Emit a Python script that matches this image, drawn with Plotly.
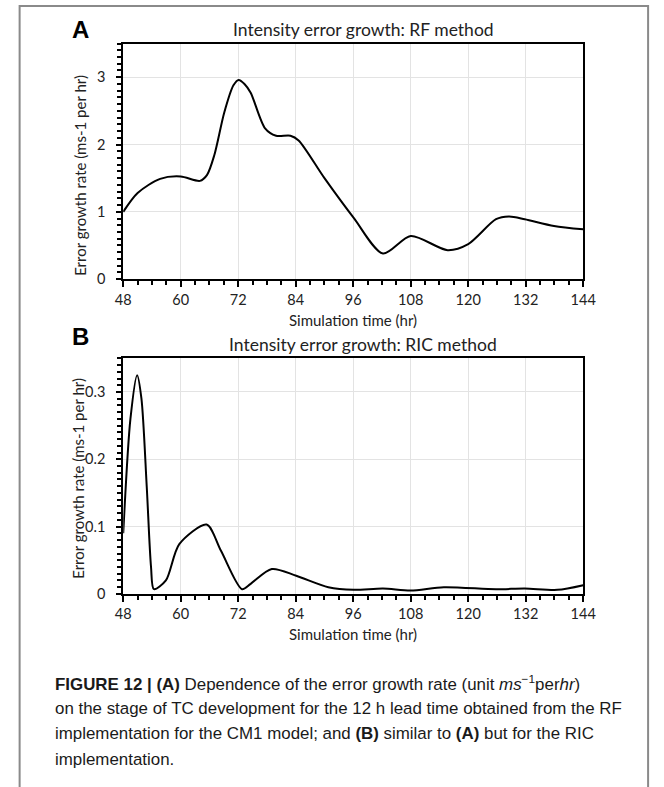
import plotly.graph_objects as go

# ---- data ----
rf_time = [48, 51, 55.7, 60, 64, 65.5, 67, 69.1, 71, 72.1, 73.3, 74.6, 77.6, 79.9, 82.9, 84.6,
           90, 96.1, 102.2, 108, 115.7, 120, 125.8, 128.5, 131.8, 137.9, 144]
rf_rate = [1.0, 1.28, 1.49, 1.525, 1.46, 1.55, 1.84, 2.48, 2.88, 2.96, 2.9, 2.77, 2.24, 2.13, 2.13, 2.06,
           1.5, 0.91, 0.38, 0.64, 0.43, 0.52, 0.89, 0.93, 0.89, 0.79, 0.74]

ric_time = [48, 49.5, 50.9, 51.8, 52.9, 53.8, 54.4, 56.9, 59.7, 65.4, 68.4, 72.8, 74.6, 79.0, 84.1,
            90.8, 96.1, 102.2, 108, 114.9, 125.8, 131.8, 138.6, 144]
ric_rate = [0.09, 0.26, 0.325, 0.29, 0.16, 0.04, 0.007, 0.02, 0.074, 0.103, 0.064, 0.007, 0.015, 0.037, 0.027,
            0.01, 0.006, 0.008, 0.005, 0.01, 0.007, 0.008, 0.006, 0.013]

x_ticks = [48, 60, 72, 84, 96, 108, 120, 132, 144]
ya_ticks = [0, 1, 2, 3]
yb_ticks = [0, 0.1, 0.2, 0.3]
ya_ticktext = ["0", "1", "2", "3"]
yb_ticktext = ["0", "0.1", "0.2", "0.3"]
titles = ["Intensity error growth: RF method", "Intensity error growth: RIC method"]
panel_labels = ["A", "B"]
x_title = "Simulation time (hr)"
y_title = "Error growth rate (ms-1 per hr)"
caption_lines = [
    "<b>FIGURE 12 | (A)</b> Dependence of the error growth rate (unit <i>ms</i><sup>\u22121</sup>per<i>hr</i>)",
    "on the stage of TC development for the 12 h lead time obtained from the RF",
    "implementation for the CM1 model; and <b>(B)</b> similar to <b>(A)</b> but for the RIC",
    "implementation.",
]

W, H = 664, 787


def px_x(v):
    return v / W


def px_y(v):
    return 1 - v / H


fig = go.Figure()
fig.add_trace(go.Scatter(x=rf_time, y=rf_rate, mode="lines", line=dict(color="black", width=2, shape="spline", smoothing=0.8),
                         xaxis="x", yaxis="y", showlegend=False))
fig.add_trace(go.Scatter(x=ric_time, y=ric_rate, mode="lines", line=dict(color="black", width=2, shape="spline", smoothing=0.8),
                         xaxis="x2", yaxis="y2", showlegend=False))
# empty traces so the overlay tick axes are drawn
fig.add_trace(go.Scatter(x=[], y=[], xaxis="x", yaxis="y3", showlegend=False, hoverinfo="skip"))
fig.add_trace(go.Scatter(x=[], y=[], xaxis="x2", yaxis="y4", showlegend=False, hoverinfo="skip"))

calibri = "Lato, Carlito, sans-serif"
tickfont = dict(family=calibri, size=14.5, color="#222")

common_x = dict(range=[48, 144], tickvals=x_ticks, ticks="outside", ticklen=6, tickwidth=1.5, tickcolor="black",
                showline=True, linewidth=2, linecolor="black", mirror=True,
                showgrid=True, gridcolor="#e3e3e3", gridwidth=1, zeroline=False,
                minor=dict(dtick=3, tick0=48, ticks="outside", ticklen=4, tickcolor="black", showgrid=False),
                tickfont=tickfont)

# labelled y axes: long transparent major ticks push the labels away from the axis line
common_y = dict(ticks="outside", ticklen=13, tickwidth=1.5, tickcolor="rgba(0,0,0,0)",
                showline=True, linewidth=2, linecolor="black", mirror=True,
                showgrid=True, gridcolor="#e3e3e3", zeroline=False,
                tickfont=tickfont)

# overlay y axes that only draw the visible major tick marks
overlay_y = dict(ticks="outside", ticklen=6, tickwidth=1.5, tickcolor="black", showticklabels=False,
                 showline=False, showgrid=False, zeroline=False)

fig.update_layout(
    width=W, height=H, margin=dict(l=0, r=0, t=0, b=0),
    paper_bgcolor="white", plot_bgcolor="white",
    xaxis=dict(domain=[px_x(119), px_x(594)], anchor="y", **common_x),
    yaxis=dict(domain=[px_y(282), px_y(44)], anchor="x", range=[0, 3.5], tickvals=ya_ticks,
               ticktext=ya_ticktext,
               minor=dict(dtick=0.1, tick0=0, ticks="outside", ticklen=4, tickcolor="black", showgrid=False),
               **common_y),
    yaxis3=dict(overlaying="y", anchor="x", side="left", range=[0, 3.5], tickvals=ya_ticks, **overlay_y),
    xaxis2=dict(domain=[px_x(119), px_x(594)], anchor="y2", **common_x),
    yaxis2=dict(domain=[px_y(600), px_y(362)], anchor="x2", range=[0, 0.35], tickvals=yb_ticks,
                ticktext=yb_ticktext,
                minor=dict(dtick=0.01, tick0=0, ticks="outside", ticklen=4, tickcolor="black", showgrid=False),
                **common_y),
    yaxis4=dict(overlaying="y2", anchor="x2", side="left", range=[0, 0.35], tickvals=yb_ticks, **overlay_y),
)

ann = []
# titles
for title, yc in zip(titles, [30, 348]):
    ann.append(dict(text=title, x=px_x(367), y=px_y(yc), xref="paper", yref="paper", showarrow=False,
                    xanchor="center", yanchor="middle", font=dict(family=calibri, size=17.5, color="#222")))
# panel labels
for lab, yc in zip(panel_labels, [30, 340]):
    ann.append(dict(text="<b>" + lab + "</b>", x=px_x(75), y=px_y(yc), xref="paper", yref="paper", showarrow=False,
                    xanchor="center", yanchor="middle", font=dict(family="Liberation Sans, Arial", size=24, color="black")))
# x titles
for yc in [323, 641]:
    ann.append(dict(text=x_title, x=px_x(356), y=px_y(yc), xref="paper", yref="paper", showarrow=False,
                    xanchor="center", yanchor="middle", font=dict(family=calibri, size=15, color="#222")))
# y titles
for xc, yc in zip([75, 72], [177, 483]):
    ann.append(dict(text=y_title, x=px_x(xc), y=px_y(yc), xref="paper", yref="paper", showarrow=False,
                    textangle=-90, xanchor="center", yanchor="middle", font=dict(family=calibri, size=15, color="#222")))
# caption
for line, yc in zip(caption_lines, [690, 716, 741, 767]):
    ann.append(dict(text=line, x=px_x(46), y=px_y(yc), xref="paper", yref="paper", showarrow=False,
                    xanchor="left", yanchor="middle", align="left",
                    font=dict(family="Liberation Sans, Arial", size=16.9, color="#1a1a1a")))
fig.update_layout(annotations=ann)

fig.update_layout(shapes=[dict(type="rect", xref="paper", yref="paper", x0=px_x(12), x1=px_x(661),
                               y0=-0.5, y1=px_y(6), line=dict(color="#8a8a8a", width=2), layer="below")])

fig.write_html("out.html")
